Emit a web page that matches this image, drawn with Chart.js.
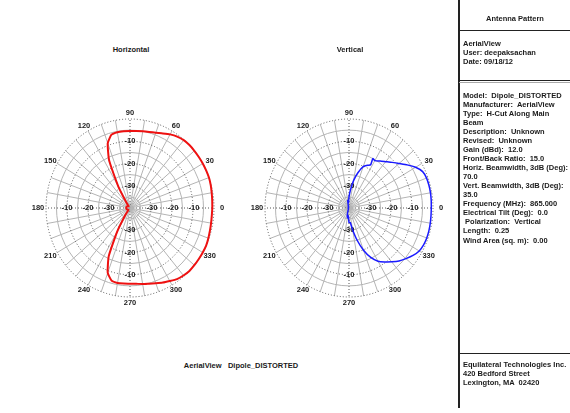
<!DOCTYPE html>
<html><head><meta charset="utf-8">
<script src="https://cdn.jsdelivr.net/npm/chart.js@4/dist/chart.umd.min.js"></script>
<style>
html,body{margin:0;padding:0;background:#fff;width:570px;height:413px;overflow:hidden;}
.t{position:absolute;font:bold 7.5px "Liberation Sans",Arial,sans-serif;color:#1a1a1a;white-space:nowrap;line-height:1;transform:translateY(-50%);}
.c{transform:translate(-50%,-50%);}
.ln{position:absolute;background:#222;}
canvas{position:absolute;}
</style></head><body>
<canvas id="hc" width="230" height="240" style="left:15px;top:88px"></canvas>
<canvas id="vc" width="230" height="240" style="left:234px;top:88px"></canvas>

<div class="t c" style="left:131px;top:50px">Horizontal</div>
<div class="t c" style="left:350px;top:50px">Vertical</div>
<div class="t c" style="left:241px;top:366px">AerialView&nbsp;&nbsp;&nbsp;Dipole_DISTORTED</div>

<div class="ln" style="left:458px;top:0;width:2px;height:408px"></div>
<div class="ln" style="left:459px;top:30px;width:111px;height:1px"></div>
<div class="ln" style="left:459px;top:80px;width:111px;height:1px"></div>
<div class="ln" style="left:459px;top:82px;width:111px;height:1px;background:#aaa"></div>
<div class="ln" style="left:459px;top:353px;width:111px;height:1px"></div>

<div class="t c" style="left:515px;top:19px">Antenna Pattern</div>
<div id="info"></div>

<script>
// ---------- data ----------
const hAngles = [0,5,10,15,20,25,30,35,40,45,50,55,60,65,70,75,80,85,90,95,100,105,110,115,120,125,130,135,140,145,150,155,160,165,170,175,180,185,190,195,200,205,210,215,220,225,230,235,240,245,250,255,260,265,270,275,280,285,290,295,300,305,310,315,320,325,330,335,340,345,350,355,360];
const horizontalDb = [-0.8,-0.7,-0.5,-0.2,0,0,0,0,0,0,-0.2,-0.8,-1.8,-3.0,-4.0,-4.6,-5.0,-5.3,-5.4,-5.4,-5.4,-5.9,-9.0,-16.5,-29,-37,-39,-38.8,-38.6,-38.5,-38.4,-38.4,-38.3,-38.3,-38.2,-38.2,-38.2,-38.2,-38.3,-38.3,-38.4,-38.5,-38.6,-38.7,-38.8,-38.9,-38.8,-36,-28,-16,-9.0,-6.2,-5.8,-5.9,-6.0,-5.8,-5.3,-4.8,-4.0,-3.0,-2.1,-1.0,-0.4,0,0,0,0,0,-0.3,-0.6,-0.8,-0.9,-0.8];

const vAngles = [0,5,10,15,20,25,30,35,40,45,50,55,60,63,62,65,70,75,80,85,90,95,100,105,110,115,120,125,130,135,140,145,150,155,160,165,170,175,180,185,190,195,200,205,210,215,220,225,230,235,240,245,250,255,260,265,270,275,280,285,290,295,300,305,310,315,320,325,330,335,340,345,350,355,360];
const verticalDb = [-0.8,-0.7,-0.6,-0.6,-0.7,-1.3,-3.4,-6.2,-8.9,-11.0,-12.8,-14.2,-15.4,-15.0,-18.0,-18.8,-20.2,-23.6,-27.5,-31.8,-35,-37.5,-36.5,-38.5,-39.5,-39,-39.5,-39.6,-39.6,-39.7,-39.6,-39.7,-39.6,-39.7,-39.6,-39.7,-39.6,-39.7,-39.7,-39.6,-39.7,-39.6,-39.7,-39.6,-39.7,-39.6,-39.7,-39.6,-39.6,-39.5,-39.5,-39.2,-38.5,-37,-35.5,-36.5,-33.5,-33.5,-30,-25,-19.8,-15.5,-12.4,-10.4,-8.4,-6.3,-4.6,-2.8,-1.4,-0.8,-0.6,-0.6,-0.7,-0.8,-0.8];

const angleTickLabels = ['0','30','60','90','120','150','180','210','240','270','300','330'];
const angleTickValues = [0,30,60,90,120,150,180,210,240,270,300,330];
const ringTickLabels = ['-10','-20','-30'];
const ringTickValues = [-10,-20,-30];
const ringLevels = [-35,-30,-25,-20,-15,-10,-5,0];
const spokeAngles = [0,10,20,30,40,50,60,70,80,90,100,110,120,130,140,150,160,170,180,190,200,210,220,230,240,250,260,270,280,290,300,310,320,330,340,350];

const infoLines = [
 ['AerialView',44],['User: deepaksachan',53],['Date: 09/18/12',62],
 ['Model:  Dipole_DISTORTED',96],['Manufacturer:  AerialView',105],['Type:  H-Cut Along Main',114],['Beam',123],
 ['Description:  Unknown',132],['Revised:  Unknown',141],['Gain (dBd):  12.0',150],['Front/Back Ratio:  15.0',159],
 ['Horiz. Beamwidth, 3dB (Deg):',168],['70.0',177],['Vert. Beamwidth, 3dB (Deg):',186],['35.0',195],
 ['Frequency (MHz):  865.000',204],['Electrical Tilt (Deg):  0.0',213],[' Polarization:  Vertical',222],
 ['Length:  0.25',231],['Wind Area (sq. m):  0.00',241],
 ['Equilateral Technologies Inc.',365],['420 Bedford Street',374],['Lexington, MA  02420',383]
];
const info = document.getElementById('info');
infoLines.forEach(([s,y])=>{const d=document.createElement('div');d.className='t';d.style.left='463px';d.style.top=y+'px';d.style.whiteSpace='pre';d.textContent=s;info.appendChild(d);});

// ---------- chart ----------
const FLOOR = -40;
function toXY(angles, db){
  return angles.map((a,i)=>{const r=Math.max(0,db[i]-FLOOR);const t=a*Math.PI/180;return {x:r*Math.cos(t),y:r*Math.sin(t)};});
}
const polarGrid = {
  id:'polarGrid',
  beforeDatasetsDraw(chart){
    const {ctx, scales:{x,y}} = chart;
    const cx=x.getPixelForValue(0), cy=y.getPixelForValue(0);
    const rx=v=>x.getPixelForValue(v)-cx, ry=v=>cy-y.getPixelForValue(v);
    const R=-FLOOR;
    ctx.save();
    // spokes
    spokeAngles.forEach(a=>{
      const t=a*Math.PI/180;
      const axis = a%90===0;
      ctx.beginPath();
      ctx.strokeStyle = axis?'#555':'#b4b4b4';
      ctx.lineWidth=1;
      ctx.setLineDash(axis?[1,2]:[]);
      ctx.moveTo(cx,cy);
      ctx.lineTo(cx+rx(R)*Math.cos(t), cy-ry(R)*Math.sin(t));
      ctx.stroke();
    });
    // rings
    ringLevels.forEach(l=>{
      const r=l-FLOOR;
      const major = l%10===0;
      ctx.beginPath();
      ctx.strokeStyle = major?'#555':'#b4b4b4';
      ctx.setLineDash(major?[1,2]:[]);
      ctx.lineWidth=1;
      ctx.ellipse(cx,cy,rx(r),ry(r),0,0,Math.PI*2);
      ctx.stroke();
    });
    ctx.setLineDash([]);
    // ring labels
    ctx.fillStyle='#222';
    ctx.font='bold 7.5px "Liberation Sans", Arial, sans-serif';
    ctx.textAlign='center'; ctx.textBaseline='middle';
    ringTickValues.forEach((v,i)=>{
      const r=v-FLOOR;
      const s=ringTickLabels[i];
      ctx.fillText(s, cx+rx(r)+1, cy);
      ctx.fillText(s, cx-rx(r), cy);
      ctx.fillText(s, cx, cy-ry(r));
      ctx.fillText(s, cx, cy+ry(r));
    });
    // angle labels
    angleTickValues.forEach((a,i)=>{
      const t=a*Math.PI/180;
      ctx.fillText(angleTickLabels[i], cx+(rx(R)+8)*Math.cos(t), cy-(ry(R)+6)*Math.sin(t));
    });
    ctx.restore();
  }
};
function makeChart(id, angles, db, color, width){
  new Chart(document.getElementById(id),{
    type:'scatter',
    data:{datasets:[{data:toXY(angles,db),showLine:true,borderColor:color,borderWidth:width,pointRadius:0,tension:0.15,fill:false}]},
    options:{
      responsive:false, maintainAspectRatio:false, animation:false, devicePixelRatio:1,
      layout:{padding:{left:31,right:31,top:31,bottom:31}},
      plugins:{legend:{display:false},tooltip:{enabled:false},title:{display:false}},
      scales:{x:{type:'linear',min:FLOOR,max:-FLOOR,display:false},y:{type:'linear',min:FLOOR,max:-FLOOR,display:false}}
    },
    plugins:[polarGrid]
  });
}
makeChart('hc', hAngles, horizontalDb, '#ee1111', 2);
makeChart('vc', vAngles, verticalDb, '#1a1aff', 1.5);
</script>
</body></html>
